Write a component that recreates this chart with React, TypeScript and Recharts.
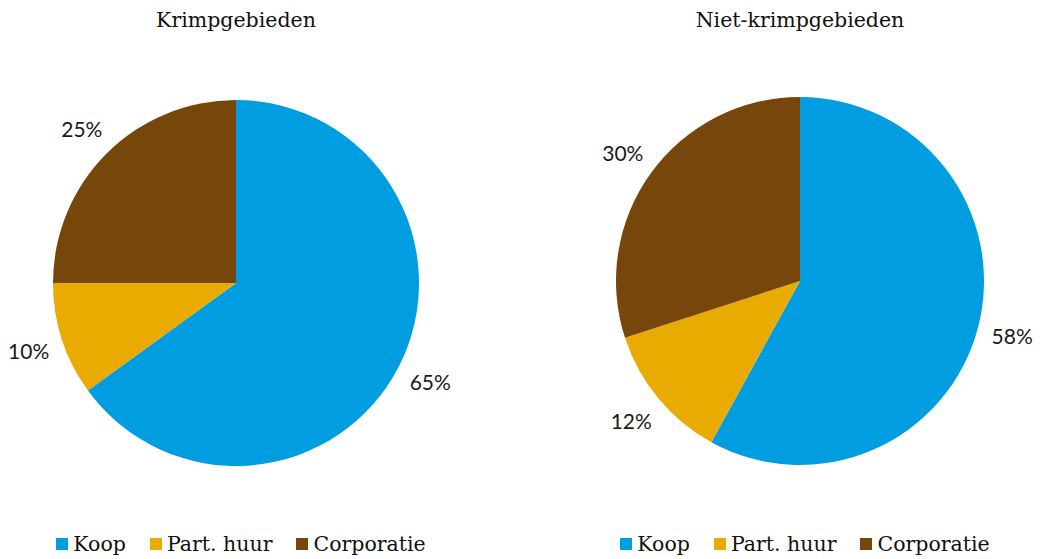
import React from 'react';
import { PieChart, Pie, Cell, Legend } from 'recharts';

const categories = ['Koop', 'Part. huur', 'Corporatie'];
const krimpValues = [65, 10, 25];
const nietKrimpValues = [58, 12, 30];
const titles = ['Krimpgebieden', 'Niet-krimpgebieden'];
const COLORS = ['#009EE0', '#E9AB00', '#77460A'];

const RAD = Math.PI / 180;

const renderLabel = (props: any) => {
  const { cx, cy, midAngle, outerRadius, value } = props;
  const r = outerRadius + 35;
  const x = cx + r * Math.cos(-midAngle * RAD);
  const y = cy + r * Math.sin(-midAngle * RAD);
  return (
    <text
      x={x}
      y={y}
      fill="#1a1a1a"
      textAnchor="middle"
      dominantBaseline="central"
      fontFamily="Lato, 'Open Sans', sans-serif"
      fontSize={21}
    >
      {`${value}%`}
    </text>
  );
};

const LegendContent = () => (
  <div style={{ display: 'flex', justifyContent: 'center', gap: 24, fontFamily: "'DejaVu Serif', serif", fontSize: 20.5, color: '#111' }}>
    {categories.map((c, i) => (
      <div key={c} style={{ display: 'flex', alignItems: 'center', gap: 5 }}>
        <span style={{ width: 12, height: 12, background: COLORS[i], display: 'inline-block' }} />
        <span>{c}</span>
      </div>
    ))}
  </div>
);

interface PanelProps {
  title: string;
  values: number[];
  left: number;
  cx: number;
  cy: number;
  r: number;
}

const Panel: React.FC<PanelProps> = ({ title, values, left, cx, cy, r }) => {
  const data = categories.map((name, i) => ({ name, value: values[i] }));
  return (
    <div style={{ position: 'absolute', left, top: 0, width: 520, height: 559 }}>
      <div
        style={{
          position: 'absolute',
          left: cx - 200,
          width: 400,
          top: 8,
          textAlign: 'center',
          fontFamily: "'DejaVu Serif', serif",
          fontSize: 20.5,
          color: '#111',
        }}
      >
        {title}
      </div>
      <PieChart width={520} height={559} margin={{ top: 0, right: 0, bottom: 0, left: 0 }}>
        <Pie
          data={data}
          dataKey="value"
          nameKey="name"
          cx={cx}
          cy={cy}
          outerRadius={r}
          startAngle={90}
          endAngle={-270}
          stroke="none"
          label={renderLabel}
          labelLine={false}
          isAnimationActive={false}
        >
          {data.map((d, i) => (
            <Cell key={d.name} fill={COLORS[i]} />
          ))}
        </Pie>
        <Legend
          content={LegendContent}
          wrapperStyle={{ position: 'absolute', left: cx - 235, width: 480, top: 532 }}
        />
      </PieChart>
    </div>
  );
};

const App: React.FC = () => (
  <div style={{ position: 'absolute', left: 0, top: 0, width: 1040, height: 559, background: '#fff' }}>
    <Panel title={titles[0]} values={krimpValues} left={0} cx={236} cy={283} r={183} />
    <Panel title={titles[1]} values={nietKrimpValues} left={520} cx={280} cy={281} r={184} />
  </div>
);

export default App;
